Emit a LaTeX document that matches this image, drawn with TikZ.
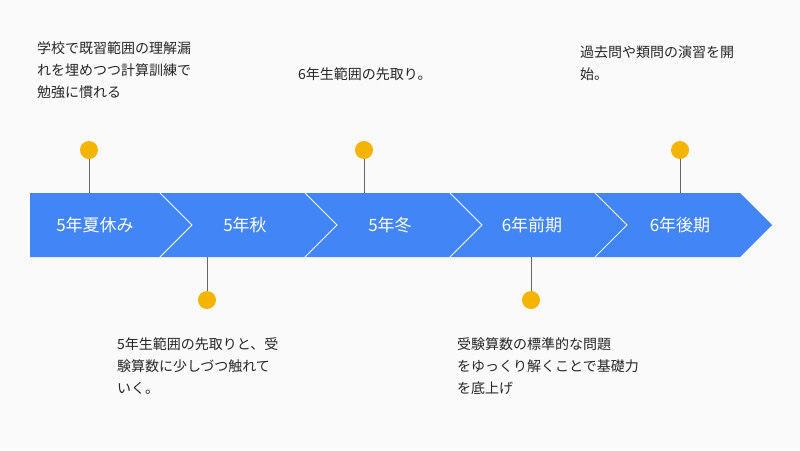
\documentclass[tikz,border=0pt]{standalone}
\usepackage{fontspec}
\setmainfont{Noto Sans CJK JP}
\definecolor{dotc}{RGB}{244,180,0}
\definecolor{bandc}{RGB}{66,133,244}
\begin{document}
\begin{tikzpicture}[x=1pt,y=-1pt,
  lbl/.style={text=white,font=\fontsize{17}{19}\selectfont},
  note/.style={anchor=north west,align=left,text=black!85,font=\fontsize{14}{22}\selectfont,inner sep=0pt},
  dot/.style={circle,fill=dotc,minimum size=18pt,inner sep=0pt},
  stem/.style={draw=black!60,line width=1pt}]
\fill[black!2] (0,0) rectangle (800,450);
\useasboundingbox (0,0) rectangle (800,450);
\fill[bandc] (30,193) -- (740,193) -- (772,225) -- (740,257) -- (30,257) -- cycle;
\foreach \x in {160,305,450,595}
  \draw[white,line width=1pt] (\x,193) -- (\x+32,225) -- (\x,257);
\node[lbl] (a) at (95,225) {5年夏休み};
\node[lbl] (b) at (245,225) {5年秋};
\node[lbl] (c) at (390,225) {5年冬};
\node[lbl] (d) at (532,225) {6年前期};
\node[lbl] (e) at (680,225) {6年後期};
\coordinate (ta) at (89,193); \coordinate (tc) at (364,193); \coordinate (te) at (680,193);
\coordinate (tb) at (207,257); \coordinate (td) at (531,257);
\node[dot] (da) at (89,150) {};
\node[dot] (dc) at (364,150) {};
\node[dot] (de) at (680,150) {};
\node[dot] (db) at (207,300) {};
\node[dot] (dd) at (531,300) {};
\draw[stem] (da) -- (ta); \draw[stem] (dc) -- (tc); \draw[stem] (de) -- (te);
\draw[stem] (db) -- (tb); \draw[stem] (dd) -- (td);
\node[note] (na) at (37,41) {学校で既習範囲の理解漏\\れを埋めつつ計算訓練で\\勉強に慣れる};
\node[note] (nc) at (298,67) {6年生範囲の先取り。};
\node[note] (ne) at (580,46) {過去問や類問の演習を開\\始。};
\node[note] (nb) at (117,337) {5年生範囲の先取りと、受\\験算数に少しづつ触れて\\いく。};
\node[note] (nd) at (457,337) {受験算数の標準的な問題\\をゆっくり解くことで基礎力\\を底上げ};
\end{tikzpicture}
\end{document}
